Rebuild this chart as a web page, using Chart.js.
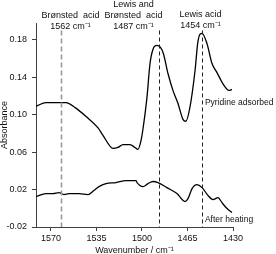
<!DOCTYPE html>
<html>
<head>
<meta charset="utf-8">
<script src="https://cdn.jsdelivr.net/npm/chart.js@4/dist/chart.umd.min.js"></script>
<style>
  html, body { margin: 0; padding: 0; background: #fff; }
  #wrap { width: 276px; height: 254px; }
</style>
</head>
<body>
<div id="wrap"><canvas id="ir-chart" width="276" height="254"></canvas></div>
<script>
// spectrum after pyridine adsorption
const adsorbedWn = [1581.5, 1573.8, 1563.8, 1558.5, 1550.8, 1543, 1533.8, 1530, 1522.3, 1518.5, 1514.6, 1509.2, 1505.4, 1503.1, 1500.8, 1499.2, 1496.2, 1493.8, 1491.5, 1488.5, 1483.8, 1480, 1476.2, 1472.3, 1468.5, 1466.2, 1463.1, 1459.2, 1456.9, 1453.8, 1450, 1446.2, 1442.3, 1437.7, 1433, 1430.8];
const adsorbedAbs = [0.109, 0.113, 0.113, 0.113, 0.107, 0.098, 0.086, 0.078, 0.064, 0.065, 0.068, 0.068, 0.065, 0.063, 0.072, 0.085, 0.118, 0.155, 0.170, 0.174, 0.1665, 0.144, 0.126, 0.112, 0.095, 0.093, 0.108, 0.147, 0.179, 0.187, 0.176, 0.155, 0.145, 0.133, 0.126, 0.127];

// spectrum after heating
const heatedWn = [1581.5, 1573.8, 1568.5, 1563.8, 1560, 1556.2, 1548.5, 1541.5, 1536.9, 1533.1, 1527.7, 1520, 1512.3, 1504.6, 1503.8, 1499.2, 1495.4, 1491.5, 1487.7, 1480.8, 1473.1, 1466.9, 1464.6, 1461.5, 1457.7, 1453.8, 1449.2, 1445.4, 1441.5, 1438.5, 1434.6, 1430.8];
const heatedAbs = [0.0125, 0.0157, 0.0157, 0.0168, 0.0147, 0.0157, 0.0157, 0.0147, 0.019, 0.0232, 0.0264, 0.0275, 0.0296, 0.0296, 0.0275, 0.0232, 0.0264, 0.0286, 0.0275, 0.0221, 0.0157, 0.0072, 0.0104, 0.021, 0.0253, 0.0221, 0.0136, 0.0093, 0.0114, 0.006, -0.0003, -0.0046];

const xTicks = [1570, 1535, 1500, 1465, 1430];
const yTicks = [-0.02, 0.02, 0.06, 0.10, 0.14, 0.18];

// marked bands
const bandWn = [1562, 1487, 1454];
const bandLabels = [
  ["Brønsted  acid", "1562 cm⁻¹"],
  ["Lewis and", "Brønsted  acid", "1487 cm⁻¹"],
  ["Lewis acid", "1454 cm⁻¹"]
];
const seriesNames = ["Pyridine adsorbed", "After heating"];

const FONT = "'Liberation Sans', Arial, sans-serif";
const AXIS = "#404040";

const toPoints = (xs, ys) => xs.map((x, i) => ({ x: x, y: ys[i] }));

const bandPlugin = {
  id: "bands",
  afterDatasetsDraw(chart) {
    const ctx = chart.ctx;
    const xs = chart.scales.x;
    const ys = chart.scales.y;
    const bottom = chart.chartArea.bottom;
    // label layout: [center offset px, first line y]
    const layout = [[9, 16], [-26, 5], [-2, 15]];
    const styles = [
      { color: "#9a9a9a", width: 1.6, dash: [5, 3] },
      { color: "#222", width: 1, dash: [4, 3] },
      { color: "#222", width: 1, dash: [4, 3] }
    ];
    ctx.save();
    bandWn.forEach((wn, i) => {
      const px = Math.round(xs.getPixelForValue(wn)) + 0.5;
      ctx.strokeStyle = styles[i].color;
      ctx.lineWidth = styles[i].width;
      ctx.setLineDash(styles[i].dash);
      ctx.beginPath();
      ctx.moveTo(px, ys.getPixelForValue(0.19));
      ctx.lineTo(px, bottom);
      ctx.stroke();

      ctx.setLineDash([]);
      ctx.fillStyle = "#111";
      ctx.font = "9px " + FONT;
      ctx.textAlign = "center";
      ctx.textBaseline = "middle";
      bandLabels[i].forEach((t, j) => {
        ctx.fillText(t, px + layout[i][0], layout[i][1] + j * 11);
      });
    });
    ctx.textAlign = "left";
    ctx.font = "8.5px " + FONT;
    ctx.fillText(seriesNames[0], xs.getPixelForValue(1451.6), ys.getPixelForValue(0.113));
    ctx.fillText(seriesNames[1], xs.getPixelForValue(1451.6), ys.getPixelForValue(-0.012));
    ctx.restore();
  }
};

Chart.defaults.font.family = FONT;
Chart.defaults.font.size = 9;
Chart.defaults.color = "#111";

const context = document.querySelector("#ir-chart").getContext("2d");
const chart = new Chart(context, {
  type: "line",
  data: {
    datasets: [{
      label: seriesNames[0],
      data: toPoints(adsorbedWn, adsorbedAbs),
      borderColor: "#000",
      borderWidth: 1.3,
      pointRadius: 0,
      tension: 0.4,
      cubicInterpolationMode: "monotone"
    }, {
      label: seriesNames[1],
      data: toPoints(heatedWn, heatedAbs),
      borderColor: "#000",
      borderWidth: 1.3,
      pointRadius: 0,
      tension: 0.4,
      cubicInterpolationMode: "monotone"
    }]
  },
  options: {
    responsive: false,
    animation: false,
    layout: { padding: { top: 23, right: 43, left: 0, bottom: 0 } },
    plugins: { legend: { display: false }, tooltip: { enabled: false } },
    scales: {
      x: {
        type: "linear",
        reverse: true,
        min: 1430,
        max: 1581.5,
        afterBuildTicks: scale => { scale.ticks = xTicks.map(v => ({ value: v })); },
        afterFit: scale => { scale.height = 27; },
        border: { color: AXIS, width: 1 },
        grid: { drawOnChartArea: false, tickLength: 4, color: AXIS },
        ticks: { padding: 2, maxRotation: 0, callback: v => String(v) },
        title: { display: true, text: "Wavenumber / cm⁻¹", padding: { top: 0, bottom: -2 } }
      },
      y: {
        min: -0.02,
        max: 0.198,
        afterBuildTicks: scale => { scale.ticks = yTicks.map(v => ({ value: v })); },
        afterFit: scale => { scale.width = 36; },
        border: { color: AXIS, width: 1 },
        grid: { drawOnChartArea: false, tickLength: 4, color: AXIS },
        ticks: { padding: 5, callback: v => v.toFixed(2) },
        title: { display: true, text: "Absorbance", padding: { top: -1, bottom: 0 } }
      }
    }
  },
  plugins: [bandPlugin]
});
</script>
</body>
</html>
